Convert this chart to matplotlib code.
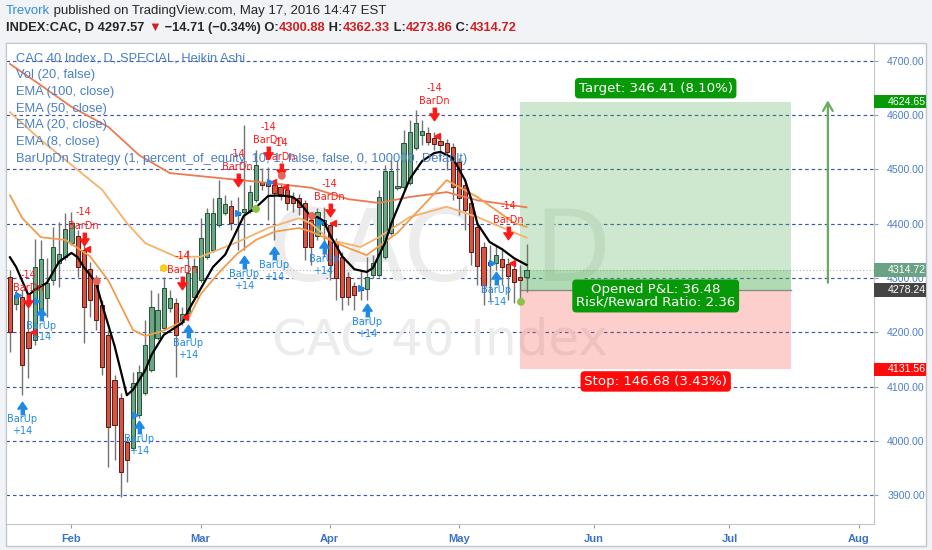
import numpy as np
from matplotlib import pyplot as plt
from matplotlib import transforms
from matplotlib.patches import Rectangle
from matplotlib.offsetbox import TextArea, HPacker, AnchoredOffsetbox

W, H = 932, 550

# heikin ashi bars, one per trading day, Jan 18 .. May 17 2016
ha_open = [4302, 4252, 4265, 4200, 4186, 4235, 4263, 4296, 4327, 4339,
           4364, 4377, 4351, 4316, 4296, 4250, 4195, 4112, 4079, 3998,
           3987, 4048, 4088, 4130, 4189, 4208, 4245, 4254, 4219, 4235,
           4265, 4296, 4339, 4351, 4397, 4420, 4432, 4416, 4421, 4423,
           4443, 4477, 4475, 4471, 4467, 4462, 4447, 4447, 4438, 4407,
           4377, 4397, 4397, 4366, 4339, 4302, 4285, 4283, 4280, 4305,
           4305, 4339, 4383, 4466, 4467, 4475, 4539, 4563, 4567, 4558,
           4552, 4548, 4541, 4514, 4471, 4438, 4394, 4357, 4329, 4327,
           4335, 4326, 4316, 4302, 4300.88]
ha_close = [4200, 4269, 4140, 4171, 4320, 4335, 4291, 4357, 4344, 4390,
            4401, 4320, 4246, 4259, 4223, 4136, 4025, 4029, 3943, 3965,
            4107, 4127, 4177, 4246, 4241, 4281, 4263, 4195, 4234, 4309,
            4322, 4374, 4420, 4420, 4447, 4436, 4401, 4421, 4427, 4458,
            4508, 4471, 4469, 4456, 4451, 4438, 4438, 4431, 4357, 4357,
            4421, 4407, 4324, 4300, 4265, 4265, 4269, 4278, 4302, 4327,
            4449, 4497, 4497, 4469, 4548, 4569, 4585, 4571, 4550, 4547,
            4545, 4532, 4467, 4447, 4425, 4348, 4322, 4287, 4324, 4342,
            4320, 4304, 4293, 4296, 4314.72]
ha_high = [4315, 4278, 4278, 4246, 4372, 4370, 4337, 4394, 4403, 4420,
           4421, 4388, 4361, 4329, 4305, 4259, 4204, 4121, 4088, 4007,
           4127, 4140, 4223, 4278, 4272, 4302, 4278, 4263, 4246, 4351,
           4337, 4410, 4429, 4447, 4480, 4453, 4443, 4449, 4582, 4471,
           4536, 4502, 4504, 4480, 4475, 4469, 4458, 4455, 4443, 4416,
           4429, 4431, 4403, 4374, 4348, 4311, 4292, 4315, 4339, 4342,
           4462, 4508, 4517, 4517, 4572, 4591, 4609, 4591, 4578, 4569,
           4561, 4556, 4548, 4521, 4480, 4447, 4403, 4366, 4361, 4361,
           4351, 4337, 4324, 4324, 4362.33]
ha_low = [4164, 4241, 4084, 4116, 4177, 4226, 4228, 4287, 4283, 4333,
          4361, 4302, 4180, 4228, 4204, 4121, 3952, 3965, 3897, 3924,
          3983, 4042, 4084, 4127, 4186, 4204, 4237, 4117, 4213, 4232,
          4261, 4292, 4335, 4348, 4394, 4416, 4388, 4351, 4351, 4420,
          4440, 4462, 4407, 4370, 4443, 4425, 4421, 4416, 4333, 4324,
          4370, 4339, 4296, 4259, 4241, 4250, 4241, 4259, 4259, 4300,
          4302, 4335, 4379, 4462, 4464, 4471, 4536, 4545, 4545, 4536,
          4517, 4499, 4443, 4416, 4388, 4324, 4287, 4250, 4259, 4315,
          4287, 4259, 4254, 4259, 4273.86]

# moving averages (bar index, value)
ema8_bar = [0, 1, 3, 4, 6, 8, 10, 11, 12, 14, 15, 17, 19, 20, 22, 23, 25, 28, 29, 31,
            33, 35, 38, 40, 42, 44, 46, 47, 49, 50, 51, 52, 54, 56, 58, 59, 61, 62, 65, 67,
            69, 70, 72, 74, 75, 76, 78, 80, 82, 84]
ema8_val = [4338, 4320, 4268, 4278, 4291, 4330, 4346, 4338, 4320, 4291, 4250, 4175, 4084, 4094, 4130,
            4158, 4195, 4217, 4240, 4280, 4320, 4343, 4414, 4430, 4451, 4452, 4449, 4440, 4412, 4412,
            4405, 4380, 4340, 4316, 4311, 4318, 4365, 4400, 4482, 4515, 4530, 4532, 4521, 4480, 4445,
            4400, 4366, 4353, 4336, 4324]
ema20_bar = [0, 2, 5, 9, 13, 16, 20, 22, 25, 29, 31, 34, 37, 40, 43, 47, 49, 55, 58, 63, 68, 71, 76, 82, 84]
ema20_val = [4452, 4410, 4375, 4370, 4340, 4295, 4204, 4193, 4203, 4225, 4270, 4310, 4345, 4370, 4385,
             4392, 4385, 4355, 4342, 4383, 4443, 4480, 4449, 4401, 4394]
ema50_bar = [0, 5, 11, 15, 19, 22, 27, 31, 37, 42, 47, 49, 52, 57, 60, 65, 71, 76, 84]
ema50_val = [4605, 4554, 4499, 4462, 4401, 4364, 4339, 4339, 4366, 4392, 4410, 4400, 4370, 4357, 4375,
             4412, 4431, 4412, 4374]
ema100_bar = [0, 5, 10, 16, 21, 26, 34, 42, 49, 55, 60, 65, 71, 76, 84]
ema100_val = [4694, 4655, 4615, 4578, 4526, 4493, 4484, 4475, 4466, 4445, 4438, 4449, 4458, 4443, 4430]

# strategy signals
bardn_bar = [3, 12, 28, 37, 42, 44, 52, 69, 81]
bardn_px = [4257, 4372, 4291, 4480, 4530, 4499, 4425, 4602, 4383]
barup_bar = [2, 5, 21, 29, 38, 43, 51, 58, 79]
barup_px = [4061, 4234, 4025, 4202, 4329, 4346, 4357, 4241, 4300]
fill_dn_bar = [3.7, 12.5, 28.5, 42.8, 44.7, 52.5, 69.4, 81.6]
fill_dn_px = [4200, 4354, 4228, 4477, 4468, 4401, 4561, 4328]
fill_up_bar = [1.3, 4.4, 20.3, 37.1, 42.3, 50.4, 57, 78.4]
fill_up_px = [4269, 4257, 4048, 4420, 4477, 4403, 4281, 4328]
dot_bar = [14.1, 25, 40, 44.2, 49.1, 83.1]
dot_px = [4294, 4318, 4427, 4488, 4414, 4256]
dot_col = ['#e8645a', '#f5d020', '#8bc34a', '#e8645a', '#e8645a', '#8bc34a']

# long position drawing
entry_px = 4278.24
target_px = 4624.65
stop_px = 4131.56
last_px = 4314.72
pos_from, pos_to = 83, 127
arrow_bar, arrow_lo, arrow_hi = 133, 4286, 4632

month_bar = [10, 31, 52, 73, 95, 117, 138]
month_name = ['Feb', 'Mar', 'Apr', 'May', 'Jun', 'Jul', 'Aug']
price_ticks = [3900, 4000, 4100, 4200, 4300, 4400, 4500, 4600, 4700]

legend_lines = ['CAC 40 Index, D, SPECIAL, Heikin Ashi', 'Vol (20, false)', 'EMA (100, close)',
                'EMA (50, close)', 'EMA (20, close)', 'EMA (8, close)',
                'BarUpDn Strategy (1, percent_of_equity, 10, 1, false, false, 0, 100000, Default)']

SANS = ['Liberation Sans', 'DejaVu Sans']

fig = plt.figure(figsize=(W / 100, H / 100), dpi=100, facecolor='#f1f3f6')
fig.add_artist(Rectangle((6 / W, 1 - 546 / H), 920 / W, 503 / H, transform=fig.transFigure,
                         fc='white', ec='#c3c6cc', lw=1, zorder=-1))
ax = fig.add_axes([6 / W, 1 - 524 / H, 868 / W, 481 / H])
ax.set_xlim(-0.65, 140.5)
ax.set_ylim(3846.8, 4732.6)
for s in ax.spines.values():
    s.set_color('#c3c6cc')

# axes / grid
ax.yaxis.tick_right()
ax.set_yticks(price_ticks)
ax.set_yticklabels(['%.2f' % v for v in price_ticks], family=SANS)
ax.tick_params(axis='y', length=3, color='#9a9ea6', pad=6.5, labelsize=7.6, labelcolor='#4a7fc9')
ax.set_xticks(month_bar)
ax.set_xticklabels(month_name, family=SANS, fontweight='bold')
ax.tick_params(axis='x', length=3, color='#9a9ea6', pad=4.5, labelsize=8, labelcolor='#3b73c8')
ax.set_axisbelow(True)
ax.grid(axis='y', color='#3b57a8', linestyle=(0, (3, 2.5)), lw=0.85)
ax.axhline(last_px, color='#b0b0b0', ls=(0, (1, 2)), lw=0.8, zorder=1)

# watermark
ax.text(0.5, 0.563, 'CAC, D', transform=ax.transAxes, ha='center', va='center', fontsize=71,
        color='#ececec', zorder=0.6, family='DejaVu Sans')
ax.text(0.5, 0.382, 'CAC 40 Index', transform=ax.transAxes, ha='center', va='center', fontsize=36,
        color='#ececec', zorder=0.6, family='DejaVu Sans')

# long position zones
ax.add_patch(Rectangle((pos_from, entry_px), pos_to - pos_from, target_px - entry_px,
                       fc='#4caf50', alpha=0.28, ec='none', zorder=1.5))
ax.add_patch(Rectangle((pos_from, stop_px), pos_to - pos_from, entry_px - stop_px,
                       fc='#f44336', alpha=0.25, ec='none', zorder=1.5))
ax.add_patch(Rectangle((pos_from, entry_px), pos_to - pos_from, last_px - entry_px,
                       fc='#4caf50', alpha=0.22, ec='none', zorder=1.6))
ax.plot([pos_from, pos_to], [entry_px, entry_px], color='#8a8a8a', lw=1, zorder=1.7)
mid = (pos_from + pos_to) / 2
lab = dict(ha='center', color='white', fontsize=9.6, family='DejaVu Sans', zorder=8,
           textcoords='offset points')
ax.annotate('Target: 346.41 (8.10%)', (mid, target_px), xytext=(0, 5), va='bottom',
            bbox=dict(boxstyle='round,pad=0.28,rounding_size=0.3', fc='#089908', ec='none'), **lab)
ax.annotate('Stop: 146.68 (3.43%)', (mid, stop_px), xytext=(0, -4), va='top',
            bbox=dict(boxstyle='round,pad=0.28,rounding_size=0.3', fc='#ff0a0a', ec='none'), **lab)
ax.annotate('Opened P&L: 36.48\nRisk/Reward Ratio: 2.36', (mid, entry_px), xytext=(0, -4.5),
            va='center', linespacing=0.95,
            bbox=dict(boxstyle='round,pad=0.28,rounding_size=0.3', fc='#089908', ec='none'), **lab)
ax.annotate('', (arrow_bar, arrow_hi), xytext=(arrow_bar, arrow_lo), textcoords='data',
            arrowprops=dict(arrowstyle='->,head_length=0.6,head_width=0.35', color='#6aaa5f', lw=1.6),
            zorder=6)

# heikin ashi candles
o = np.array(ha_open)
c = np.array(ha_close)
hi = np.array(ha_high)
lo = np.array(ha_low)
bars = np.arange(len(o))
up = c >= o
ax.vlines(bars, lo, hi, color='#737375', lw=1, zorder=3)
ax.bar(bars[up], (c - o)[up], bottom=o[up], width=0.68, color='#6ba583', edgecolor='#225437',
       lw=0.7, zorder=4)
ax.bar(bars[~up], (o - c)[~up], bottom=c[~up], width=0.68, color='#d75442', edgecolor='#5b1a13',
       lw=0.7, zorder=4)

# moving averages
ax.plot(ema100_bar, ema100_val, color='#ec7a52', lw=1.3, zorder=5)
ax.plot(ema50_bar, ema50_val, color='#f5b26b', lw=1.3, zorder=5)
ax.plot(ema20_bar, ema20_val, color='#f39c4e', lw=1.3, zorder=5)
ax.plot(ema8_bar, ema8_val, color='black', lw=1.6, zorder=5)

# strategy marks
down_arrow = [(-0.3, 1), (0.3, 1), (0.3, 0.1), (0.75, 0.1), (0, -1), (-0.75, 0.1), (-0.3, 0.1)]
up_arrow = [(x, -y) for x, y in down_arrow]
red, blue = '#ff1a1a', '#1e8ae6'
ax.plot(bardn_bar, bardn_px, ls='none', marker=down_arrow, ms=9, color=red, zorder=7)
ax.plot(barup_bar, barup_px, ls='none', marker=up_arrow, ms=9, color=blue, zorder=7)
ax.plot(fill_dn_bar, fill_dn_px, ls='none', marker='<', ms=4, color=red, zorder=7)
ax.plot(fill_up_bar, fill_up_px, ls='none', marker='>', ms=4, color=blue, zorder=7)
ax.scatter(dot_bar, dot_px, s=22, c=dot_col, zorder=7)
sig = dict(textcoords='offset points', ha='center', va='center', fontsize=7,
           family='DejaVu Sans', zorder=7)
for b, p in zip(bardn_bar, bardn_px):
    ax.annotate('BarDn', (b, p), xytext=(0, 9.5), color=red, **sig)
    ax.annotate('-14', (b, p), xytext=(0, 19), color=red, **sig)
for b, p in zip(barup_bar, barup_px):
    ax.annotate('BarUp', (b, p), xytext=(0, -8.5), color=blue, **sig)
    ax.annotate('+14', (b, p), xytext=(0, -17), color=blue, **sig)

# price labels on the right scale
tr = transforms.blended_transform_factory(ax.transAxes, ax.transData)
for val, col in [(target_px, '#089908'), (last_px, '#6aa383'), (entry_px, '#454545'),
                 (stop_px, '#ff0a0a')]:
    ax.add_patch(Rectangle((1.0, val - 12.5), 0.0599, 25, transform=tr, fc=col, ec='none',
                           clip_on=False, zorder=9))
    ax.text(1.0155, val, '%.2f' % val, transform=tr, va='center', ha='left', fontsize=7.6,
            color='white', family=SANS, zorder=10, clip_on=False)

# legend
for k, s in enumerate(legend_lines):
    fig.text(16 / W, 1 - (58.5 + 16.7 * k) / H, s, color='#4a80c8', fontsize=9.3, va='center',
             family=SANS)


# header
def header_line(parts, y, size, weight):
    areas = [TextArea(t, textprops=dict(color=col, fontsize=size, fontweight=weight, family=SANS))
             for t, col in parts]
    row = HPacker(children=areas, align='baseline', pad=0, sep=0)
    box = AnchoredOffsetbox(loc='center left', child=row, pad=0, borderpad=0, frameon=False,
                            bbox_to_anchor=(6 / W, 1 - y / H), bbox_transform=fig.transFigure)
    fig.add_artist(box)


dark, hred = '#262626', '#d02020'
header_line([('Trevork', '#2f8fd8'), (' published on TradingView.com, May 17, 2016 14:47 EST', dark)],
            11, 9.5, 'normal')
header_line([('INDEX:CAC, D 4297.57 ', dark), ('\u25bc', hred), (' \u221214.71 (\u22120.34%) O:', dark),
             ('4300.88', hred), (' H:', dark), ('4362.33', hred), (' L:', dark), ('4273.86', hred),
             (' C:', dark), ('4314.72', hred)], 28, 9.3, 'bold')

fig.savefig('out.png', dpi=100, facecolor=fig.get_facecolor())
